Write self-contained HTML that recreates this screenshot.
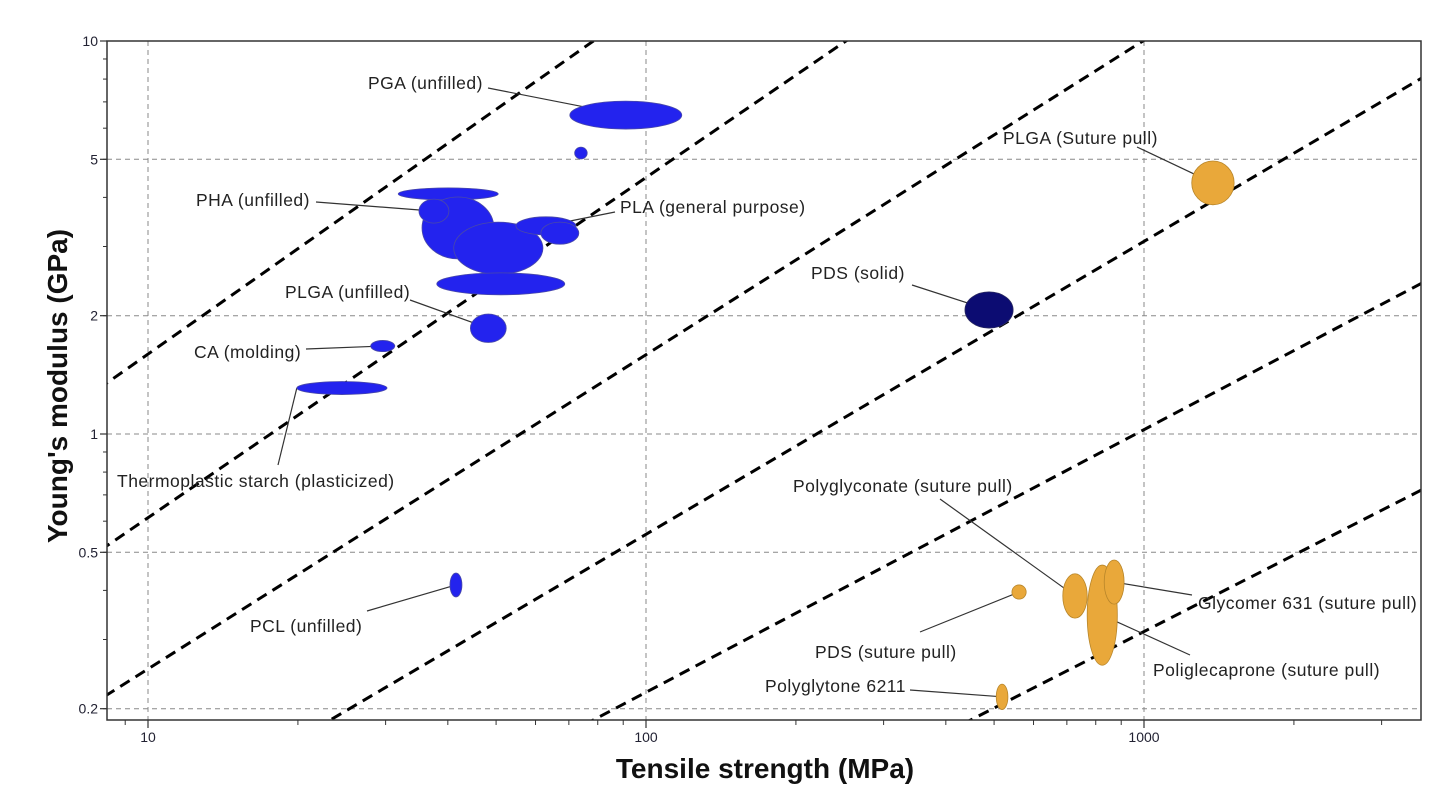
<!DOCTYPE html>
<html><head><meta charset="utf-8"><style>
body{margin:0;background:#fff;}
svg{display:block;font-family:"Liberation Sans",Arial,sans-serif;}
</style></head><body>
<svg id="chart" width="1432" height="799" viewBox="0 0 1432 799" xmlns="http://www.w3.org/2000/svg"></svg>
<script>
// ---- data ----
const materials = ["PGA (unfilled)","PGA small","PHA flat","PHA big","PHA (unfilled)","PLA big","PLA (general purpose)","PLA small","PLA flat","PLGA (unfilled)","CA (molding)","Thermoplastic starch (plasticized)","PCL (unfilled)","PDS (solid)","PLGA (Suture pull)","Polyglyconate (suture pull)","Poliglecaprone (suture pull)","Glycomer 631 (suture pull)","PDS (suture pull)","Polyglytone 6211"];
const strengthLo = [70.3,71.9,31.8,35.5,35.0,41.1,54.8,61.5,38.0,44.4,28.0,19.9,40.4,437,1247,687,769,832,543,505];
const strengthHi = [118,76.2,50.5,49.5,40.2,62.1,72.3,73.3,68.7,52.4,31.3,30.2,42.7,546,1517,769,884,912,580,533];
const modulusLo = [5.97,5.01,3.94,2.79,3.44,2.55,3.21,3.04,2.26,1.71,1.62,1.26,0.385,1.86,3.83,0.340,0.258,0.369,0.380,0.199];
const modulusHi = [7.03,5.37,4.23,4.01,3.96,3.46,3.57,3.46,2.57,2.02,1.73,1.36,0.443,2.30,4.95,0.441,0.464,0.478,0.413,0.231];
const group = ["b","b","b","b","b","b","b","b","b","b","b","b","b","d","o","o","o","o","o","o"];
// guide lines: endpoints (strength, modulus)
const guideS1 = [8.28,8.28,8.28,23.2,78.3,448];
const guideE1 = [1.35,0.52,0.217,0.187,0.187,0.187];
const guideS2 = [78.4,252,995,3612,3612,3612];
const guideE2 = [10,10,10,8.05,2.42,0.721];
const xTicks = [10,100,1000];
const yTicks = [10,5,2,1,0.5,0.2];
// labels
const labelText = ["PGA (unfilled)","PHA (unfilled)","PLA (general purpose)","PLGA (unfilled)","CA (molding)","Thermoplastic starch (plasticized)","PCL (unfilled)","PDS (solid)","PLGA (Suture pull)","Polyglyconate (suture pull)","PDS (suture pull)","Polyglytone 6211","Glycomer 631 (suture pull)","Poliglecaprone (suture pull)"];
const labelTarget = [0,4,6,9,10,11,12,13,14,15,18,19,17,16];
const labelX = [368,196,620,285,194,117,250,811,1003,793,815,765,1198,1153];
const labelY = [89,206,213,298,358,487,632,279,144,492,658,692,609,676];
const leadX = [488,316,615,410,306,278,367,912,1137,940,920,910,1192,1190];
const leadY = [88,202,212,300,349,465,611,285,147,499,632,690,595,655];

// ---- axes ----
const L=107,R=1421,T=41,B=720;
const xs = v => 148 + (Math.log10(v)-1)*498;
const ys = v => 41 + (1-Math.log10(v))*393;
const NS="http://www.w3.org/2000/svg";
const svg=document.getElementById('chart');
function mk(tag,attrs,parent){const e=document.createElementNS(NS,tag);for(const k in attrs)e.setAttribute(k,attrs[k]);(parent||svg).appendChild(e);return e;}
const defs=mk('defs',{});
const cp=mk('clipPath',{id:'clip'},defs);mk('rect',{x:L,y:T,width:R-L,height:B-T},cp);

// grid
xTicks.forEach(t=>{const g=mk('line',{x1:xs(t),x2:xs(t),y1:T,y2:B,stroke:'#888','stroke-width':1,'stroke-dasharray':'5,4'});

});
yTicks.forEach(t=>{if(t===10)return;const g=mk('line',{x1:L,x2:R,y1:ys(t),y2:ys(t),stroke:'#888','stroke-width':1,'stroke-dasharray':'5,4'});

});

// guide lines
const gg=mk('g',{'clip-path':'url(#clip)'});
for(let i=0;i<guideS1.length;i++){
  const x1=xs(guideS1[i]),y1=ys(guideE1[i]),x2=xs(guideS2[i]),y2=ys(guideE2[i]);
  const m=(y2-y1)/(x2-x1);
  const l=mk('line',{x1:x1-200,y1:y1-200*m,x2:x2+200,y2:y2+200*m,stroke:'#000','stroke-width':3,'stroke-dasharray':'11,7'},gg);
  
  
}

// leaders
for(let i=0;i<labelText.length;i++){
  const k=labelTarget[i];
  const cx=(xs(strengthLo[k])+xs(strengthHi[k]))/2, cy=(ys(modulusLo[k])+ys(modulusHi[k]))/2;
  let tx=cx,ty=cy;
  if(i===5){tx=xs(strengthLo[k]);}
  const l=mk('line',{x1:leadX[i],y1:leadY[i],x2:tx,y2:ty,stroke:'#333','stroke-width':1.2});
  
  
}

// bubbles
const fills={b:'#2323ee',d:'#0c0c72',o:'#e9a83a'};
const strokes={b:'#4a4aa8',d:'#2a2a60',o:'#b8862a'};
for(let i=0;i<materials.length;i++){
  const x1=xs(strengthLo[i]),x2=xs(strengthHi[i]),y1=ys(modulusHi[i]),y2=ys(modulusLo[i]);
  const e=mk('ellipse',{cx:(x1+x2)/2,cy:(y1+y2)/2,rx:(x2-x1)/2,ry:(y2-y1)/2,fill:fills[group[i]],stroke:strokes[group[i]],'stroke-width':0.8});
  
  
}

// labels
for(let i=0;i<labelText.length;i++){
  const t=mk('text',{x:labelX[i],y:labelY[i],'font-size':17.5,'letter-spacing':0.5,fill:'#222'});
  t.textContent=labelText[i];
  
  
}

// frame
const fr=mk('rect',{x:L,y:T,width:R-L,height:B-T,fill:'none',stroke:'#333','stroke-width':1.5});



// y ticks
for(let d=-1;d<=1;d++)for(let m=1;m<10;m++){const v=m*Math.pow(10,d);const y=ys(v);if(y<T-0.5||y>B)continue;
  mk('line',{x1:L-4,x2:L,y1:y,y2:y,stroke:'#333','stroke-width':1});}
yTicks.forEach(t=>{mk('line',{x1:L-7,x2:L,y1:ys(t),y2:ys(t),stroke:'#333','stroke-width':1.2});
  const tx=mk('text',{x:L-9,y:ys(t)+5,'font-size':14,'text-anchor':'end',fill:'#223'});tx.textContent=String(t);
  
  });
// x ticks
for(let d=0;d<=3;d++)for(let m=1;m<10;m++){const v=m*Math.pow(10,d);const x=xs(v);if(x<L||x>R)continue;
  mk('line',{x1:x,x2:x,y1:B,y2:B+5,stroke:'#333','stroke-width':1});}
xTicks.forEach(t=>{mk('line',{x1:xs(t),x2:xs(t),y1:B,y2:B+8,stroke:'#333','stroke-width':1.2});
  const tx=mk('text',{x:xs(t),y:B+22,'font-size':14,'text-anchor':'middle',fill:'#223'});tx.textContent=String(t);
  
  });

// axis titles
const xt=mk('text',{x:765,y:778,'font-size':28,'font-weight':'bold','text-anchor':'middle',fill:'#111'});xt.textContent='Tensile strength (MPa)';


const yt=mk('text',{x:0,y:0,'font-size':28,'font-weight':'bold','text-anchor':'middle',fill:'#111',transform:'translate(67,386) rotate(-90)'});yt.textContent="Young's modulus (GPa)";


</script>
</body></html>
